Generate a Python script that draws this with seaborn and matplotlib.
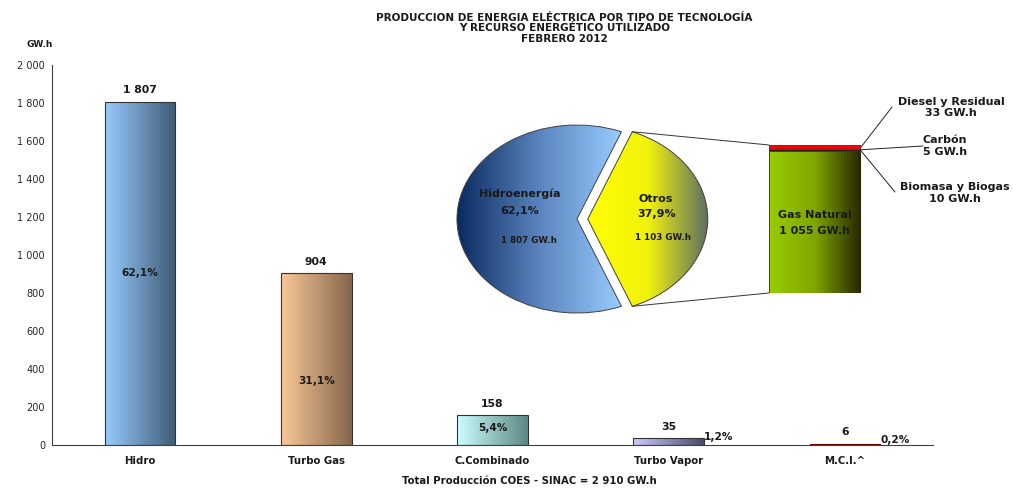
import matplotlib
matplotlib.use('Agg')  # no display
import matplotlib.pyplot as plt
import seaborn as sns
import numpy as np
import pandas as pd
from matplotlib.colors import LinearSegmentedColormap
from matplotlib.patches import ConnectionPatch

# data
categories = ['Hidro', 'Turbo Gas', 'C.Combinado', 'Turbo Vapor', 'M.C.I.^']
energy = [1807, 904, 158, 35, 6]
value_labels = ['1 807', '904', '158', '35', '6']
share_labels = ['62,1%', '31,1%', '5,4%', '1,2%', '0,2%']
y_ticks = list(range(0, 2001, 200))

pie_names = ['Hidroenergía', 'Otros']
pie_values = [1807, 1103]
pie_shares = ['62,1%', '37,9%']
pie_amounts = ['1 807 GW.h', '1 103 GW.h']

otros_names = ['Gas Natural', 'Biomasa y Biogas', 'Carbón', 'Diesel y Residual']
otros_values = [1055, 10, 5, 33]
otros_labels = ['1 055 GW.h', '10 GW.h', '5 GW.h', '33 GW.h']

# styling
bar_grads = [['#99CCFF', '#3F5A75'], ['#FAC898', '#86664C'], ['#CCFFFF', '#5C8884'],
             ['#CCCCFF', '#4A4A6A'], ['#9B1A1A', '#4A0000']]
bar_edges = ['#333333', '#333333', '#333333', '#333333', '#600000']
pie_grads = [['#0A2A60', '#5A84BE', '#99CCFF'], ['#FFFF00', '#F2F20E', '#5E6E62']]
gas_grad = ['#99CC00', '#7FA600', '#262600']
seg_colors = [None, '#1A1A1A', '#505050', '#FF0000']
edge = '#333333'
txt = '#1a1a1a'

sns.set_theme(style='white')
plt.rcParams['font.family'] = ['DejaVu Sans']


def gradient_fill(ax, patch, colors, extent):
    cmap = LinearSegmentedColormap.from_list('g', colors)
    grad = np.linspace(0, 1, 256).reshape(1, -1)
    im = ax.imshow(grad, extent=extent, aspect='auto', cmap=cmap, origin='lower',
                   zorder=patch.get_zorder() - 0.1, interpolation='bilinear')
    im.set_clip_path(patch)
    patch.set_facecolor('none')


fig = plt.figure(figsize=(10.13, 4.88), dpi=100)
fig.patch.set_facecolor('white')

# main bar chart
ax = fig.add_axes([0.0513, 0.0881, 0.8697, 0.7787])
df = pd.DataFrame({'tec': categories, 'gwh': energy})
sns.barplot(data=df, x='tec', y='gwh', ax=ax, width=0.4, color='#99CCFF',
            edgecolor=edge, linewidth=0.8)
for p, cols, ec in zip(ax.patches, bar_grads, bar_edges):
    x0, y0 = p.get_x(), p.get_y()
    p.set_edgecolor(ec)
    gradient_fill(ax, p, cols, [x0, x0 + p.get_width(), y0, y0 + p.get_height()])

ax.set_xlim(-0.5, len(categories) - 0.5)
ax.set_ylim(0, 2000)
ax.set_xlabel('')
ax.set_ylabel('')
ax.set_yticks(y_ticks)
ax.set_yticklabels([f'{v:,}'.replace(',', ' ') for v in y_ticks], fontsize=7)
ax.set_xticks(range(len(categories)))
ax.set_xticklabels(categories, fontsize=7.3, fontweight='bold', color=txt)
ax.set_xticks(np.arange(-0.5, len(categories), 1), minor=True)
ax.tick_params(axis='x', which='major', length=0, pad=8)
ax.tick_params(axis='x', which='minor', length=4, direction='out', width=0.8, color='#404040')
ax.tick_params(axis='y', length=3, direction='out', width=0.8, color='#404040', pad=2)
for s in ['top', 'right']:
    ax.spines[s].set_visible(False)
for s in ['left', 'bottom']:
    ax.spines[s].set_color('#404040')
    ax.spines[s].set_linewidth(0.8)

share_y = [903, 335, 88, 42, 26]
for i, (v, lab, sh, sy) in enumerate(zip(energy, value_labels, share_labels, share_y)):
    ax.text(i, v + 60, lab, ha='center', va='center', fontsize=7.8, fontweight='bold', color=txt)
    if v > 100:
        ax.text(i, sy, sh, ha='center', va='center', fontsize=7.6, fontweight='bold', color=txt)
    else:
        ax.text(i + 0.2, sy, sh, ha='left', va='center', fontsize=7.6, fontweight='bold', color=txt)

# pie of hydro vs others
ax_pie = fig.add_axes([0.4511, 0.3586, 0.2606, 0.3852])
total = sum(pie_values)
wedges, _ = ax_pie.pie(pie_values, startangle=180 * pie_values[1] / total, counterclock=True,
                       explode=[0, 0.09], radius=1,
                       wedgeprops=dict(edgecolor='#404040', linewidth=0.7))
ax_pie.set_aspect('auto')
for w, cols in zip(wedges, pie_grads):
    bb = w.get_path().get_extents()
    gradient_fill(ax_pie, w, cols, [bb.x0, bb.x1, bb.y0, bb.y1])
ax_pie.set_xlim(-1, 1.2)
ax_pie.set_ylim(-1, 1)
ax_pie.axis('off')

pie_pos = [(-0.48, 0.27, 0.09, -0.40, -0.23), (0.66, 0.21, 0.05, 0.72, -0.20)]
for (nx, ny, sy, ax_, ay), nm, sh, am in zip(pie_pos, pie_names, pie_shares, pie_amounts):
    ax_pie.text(nx, ny, nm, ha='center', va='center', fontsize=8, fontweight='bold', color=txt)
    ax_pie.text(nx, sy, sh, ha='center', va='center', fontsize=8, fontweight='bold', color=txt)
    ax_pie.text(ax_, ay, am, ha='center', va='center', fontsize=6.3, fontweight='bold', color=txt)

# stacked bar breaking down "Otros"
ax_bar = fig.add_axes([0.7591, 0.3996, 0.0908, 0.3033])
bottom = 0
seg_patches = []
for v, c in zip(otros_values, seg_colors):
    bars = ax_bar.bar(0, v, bottom=bottom, width=1, color=c if c else '#99CC00',
                      edgecolor=edge, linewidth=0.6 if c is None else 0.3)
    seg_patches.append((bars[0], bottom + v / 2))
    bottom += v
gp = seg_patches[0][0]
gradient_fill(ax_bar, gp, gas_grad, [-0.5, 0.5, 0, otros_values[0]])
ax_bar.set_xlim(-0.5, 0.5)
ax_bar.set_ylim(0, sum(otros_values))
ax_bar.axis('off')
ax_bar.text(0, 581, otros_names[0], ha='center', va='center', fontsize=8, fontweight='bold', color=txt)
ax_bar.text(0, 462, otros_labels[0], ha='center', va='center', fontsize=8, fontweight='bold', color=txt)

# connectors pie -> bar
ang = np.deg2rad(180 * pie_values[1] / total)
for sgn, yb in [(1, sum(otros_values)), (-1, 0)]:
    con = ConnectionPatch(xyA=(0.09 + np.cos(ang), sgn * np.sin(ang)), coordsA=ax_pie.transData,
                          xyB=(-0.5, yb), coordsB=ax_bar.transData, color='#333333', lw=0.7)
    fig.add_artist(con)

# leader lines and labels for the small segments
leader_end = {1: (895, 296), 2: (923, 342), 3: (892, 381)}
label_pos = {1: (955, 193), 2: (945, 146), 3: (951, 107.5)}
for k in (1, 2, 3):
    ax_bar.annotate('', xy=(0.5, seg_patches[k][1]), xycoords='data',
                    xytext=leader_end[k], textcoords='figure pixels',
                    arrowprops=dict(arrowstyle='-', color='#222222', lw=0.7, shrinkA=0, shrinkB=0))
    px, py = label_pos[k]
    fig.text(px / 1013, 1 - py / 488, f'{otros_names[k]}\n{otros_labels[k]}', ha='center', va='center',
             fontsize=8, fontweight='bold', color=txt, linespacing=1.2)

# titles
fig.text(0.557, 0.9416, 'PRODUCCION DE ENERGIA ELÉCTRICA POR TIPO DE TECNOLOGÍA\n'
         'Y RECURSO ENERGÉTICO UTILIZADO\nFEBRERO 2012', ha='center', va='center',
         fontsize=7.5, fontweight='bold', linespacing=1.1, color=txt)
fig.text(0.0395, 0.908, 'GW.h', ha='center', va='center', fontsize=6.5, fontweight='bold', color=txt)
fig.text(0.523, 0.0143, 'Total Producción COES - SINAC = 2 910 GW.h', ha='center', va='center',
         fontsize=7.3, fontweight='bold', color=txt)

fig.savefig('out.png', dpi=100, facecolor='white')
plt.close(fig)
